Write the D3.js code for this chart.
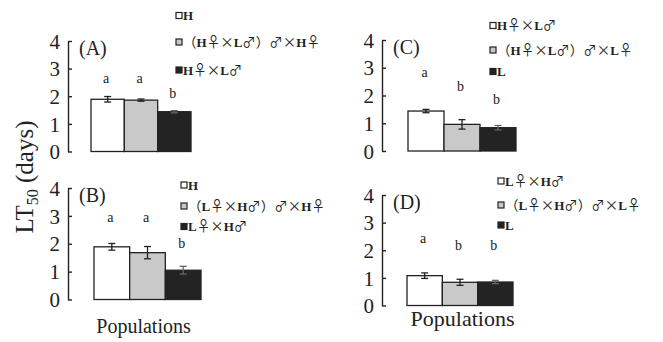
<!DOCTYPE html>
<html><head><meta charset="utf-8">
<script src="https://cdn.jsdelivr.net/npm/d3@7"></script>
<style>
body{margin:0;background:#fff;}
svg{display:block;}
text{font-family:"Liberation Serif","DejaVu Serif",serif;}
.sym{font-family:"Noto Sans CJK SC","DejaVu Sans",sans-serif;font-weight:normal;}
</style></head>
<body><svg id="c" width="663" height="342"></svg>
<script>
// ---- data ----
const panelNames = ["(A)", "(B)", "(C)", "(D)"];
const yTicks = [0, 1, 2, 3, 4];
const legendA = ["H", "（H♀×L♂）♂×H♀", "H♀×L♂"];
const legendB = ["H", "（L♀×H♂）♂×H♀", "L♀×H♂"];
const legendC = ["H♀×L♂", "（H♀×L♂）♂×L♀", "L"];
const legendD = ["L♀×H♂", "（L♀×H♂）♂×L♀", "L"];
const valuesA = [1.89, 1.86, 1.44];
const valuesB = [1.89, 1.68, 1.05];
const valuesC = [1.44, 0.96, 0.84];
const valuesD = [1.08, 0.84, 0.85];
const errorsA = [0.10, 0.04, 0.04];
const errorsB = [0.12, 0.22, 0.14];
const errorsC = [0.06, 0.17, 0.08];
const errorsD = [0.10, 0.11, 0.06];
const lettersA = ["a", "a", "b"];
const lettersB = ["a", "a", "b"];
const lettersC = ["a", "b", "b"];
const lettersD = ["a", "b", "b"];
const letterYA = [2.48, 2.48, 1.94];
const letterYB = [2.77, 2.77, 1.84];
const letterYC = [2.67, 2.18, 1.69];
const letterYD = [2.26, 2.01, 2.01];
const xTitle = "Populations";

// ---- layout ----
const fills = ["#ffffff", "#c9c9c9", "#232323"];
const panels = [
  {name: panelNames[0], legend: legendA, values: valuesA, errors: errorsA, letters: lettersA, letterY: letterYA,
   ax: 68, y0: 151.5, y4: 41, b0: 91, b1: 191, lx: 176, ly: [15.5, 42, 70]},
  {name: panelNames[1], legend: legendB, values: valuesB, errors: errorsB, letters: lettersB, letterY: letterYB,
   ax: 68, y0: 299.5, y4: 188, b0: 94, b1: 201, lx: 181, ly: [185, 206, 226.5], xt: {x: 143.5, y: 333, s: 20}},
  {name: panelNames[2], legend: legendC, values: valuesC, errors: errorsC, letters: lettersC, letterY: letterYC,
   ax: 382, y0: 151, y4: 40, b0: 408, b1: 516, lx: 490, ly: [25.5, 50, 71.5]},
  {name: panelNames[3], legend: legendD, values: valuesD, errors: errorsD, letters: lettersD, letterY: letterYD,
   ax: 382, y0: 305.5, y4: 195, b0: 407, b1: 513, lx: 498, ly: [181, 205, 225], xt: {x: 462.5, y: 326, s: 22}}
];

const svg = d3.select("#c");
const symChars = /[♀♂×（）]/;

panels.forEach(p => {
  const y = d3.scaleLinear().domain([0, 4]).range([p.y0, p.y4]);
  const x = d3.scaleBand().domain(d3.range(p.values.length)).range([p.b0, p.b1]).padding(0);
  const g = svg.append("g");

  const axis = d3.axisLeft(y).tickValues(yTicks).tickFormat(d3.format("d"))
    .tickSizeInner(-4).tickSizeOuter(0).tickPadding(8);
  const ag = g.append("g").attr("transform", `translate(${p.ax},0)`).call(axis);
  ag.attr("font-family", null).attr("font-size", null);
  ag.select(".domain").attr("stroke", "#222").attr("stroke-width", 1.4);
  ag.selectAll(".tick line").attr("stroke", "#222").attr("stroke-width", 1.4);
  ag.selectAll(".tick text").attr("font-size", 21).attr("fill", "#222").attr("dy", "0.34em");

  // bars
  g.selectAll("rect.bar").data(p.values).join("rect")
    .attr("x", (d, i) => x(i)).attr("width", x.bandwidth())
    .attr("y", d => y(d)).attr("height", d => y(0) - y(d))
    .attr("fill", (d, i) => fills[i]).attr("stroke", "#222").attr("stroke-width", 1.3);

  // error bars + letters
  p.values.forEach((v, i) => {
    const cx = x(i) + x.bandwidth() / 2, e = p.errors[i];
    const col = i === 2 ? "#666" : "#222";
    g.append("line").attr("x1", cx).attr("x2", cx).attr("y1", y(v + e)).attr("y2", y(v - e))
      .attr("stroke", col).attr("stroke-width", 1.3);
    [v + e, v - e].forEach(t => g.append("line").attr("x1", cx - 3.5).attr("x2", cx + 3.5)
      .attr("y1", y(t)).attr("y2", y(t)).attr("stroke", col).attr("stroke-width", 1.3));
    g.append("text").attr("x", cx - 1.5).attr("y", y(p.letterY[i])).attr("text-anchor", "middle")
      .attr("font-size", 14).attr("fill", "#222").text(p.letters[i]);
  });

  // panel label
  g.append("text").attr("x", p.ax + 11).attr("y", p.y4 + 14)
    .attr("font-size", 20).attr("fill", "#222").text(p.name);

  // legend
  p.legend.forEach((t, i) => {
    g.append("rect").attr("x", p.lx).attr("y", p.ly[i] - 3).attr("width", 6).attr("height", 6)
      .attr("fill", fills[i]).attr("stroke", "#222").attr("stroke-width", 1.2);
    const tx = g.append("text").attr("x", p.lx + 7).attr("y", p.ly[i] + 4.5)
      .attr("font-weight", "bold").attr("font-size", 13).attr("fill", "#222");
    t.split(/([♀♂×（）])/).filter(s => s.length).forEach(s => {
      const ts = tx.append("tspan").text(s);
      if (symChars.test(s)) ts.attr("class", "sym").attr("font-size", 13.5);
    });
  });

  if (p.xt) {
    g.append("text").attr("x", p.xt.x).attr("y", p.xt.y).attr("text-anchor", "middle")
      .attr("font-size", p.xt.s).attr("fill", "#222").text(xTitle);
  }
});

// y title
const yt = svg.append("text").attr("transform", "translate(33,177) rotate(-90)")
  .attr("text-anchor", "middle").attr("font-size", 25).attr("fill", "#222");
yt.append("tspan").text("LT");
yt.append("tspan").attr("font-size", 16).attr("dy", 5).text("50");
yt.append("tspan").attr("dy", -5).text(" (days)");
</script></body></html>
